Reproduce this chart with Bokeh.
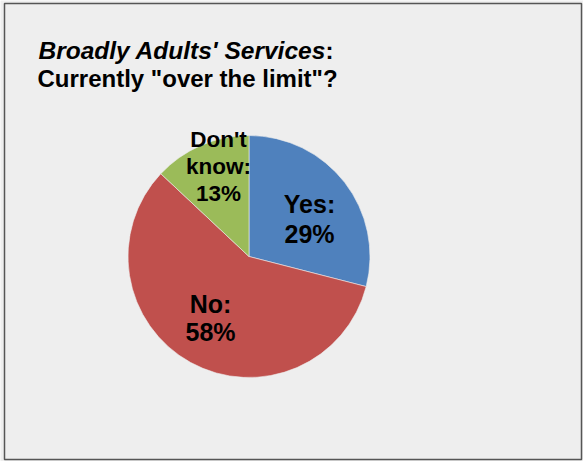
import numpy as np
from bokeh.plotting import figure
from bokeh.models import Range1d
from bokeh.embed import file_html
from bokeh.resources import INLINE
from bokeh.core.properties import value

# ---- data ----
categories = ["Yes", "No", "Don't know"]
values = [29, 58, 13]
label_lines = [["Yes:", "29%"], ["No:", "58%"], ["Don't", "know:", "13%"]]
colors = ["#4F81BD", "#C0504D", "#9BBB59"]
title_italic = "Broadly Adults' Services"
title_colon = ":"
title_line2 = 'Currently "over the limit"?'

# ---- layout ----
W, H = 583, 461
FONT = "Liberation Sans"
cx, cy, r = 248.5, H - 256, 121

p = figure(width=W, height=H, x_range=Range1d(0, W), y_range=Range1d(0, H),
           output_backend="svg", toolbar_location=None, min_border=0,
           x_axis_location=None, y_axis_location=None)
p.grid.visible = False
p.outline_line_color = None
p.background_fill_color = "#EEEEEE"
p.border_fill_color = "#EEEEEE"

# frame border
p.quad(left=[4], right=[581], top=[H - 3], bottom=[H - 459],
       fill_color=None, line_color="#555555", line_width=1.5)

# pie
vals = np.array(values, dtype=float)
frac = vals / vals.sum()
cum = np.concatenate([[0], np.cumsum(frac)])
starts = np.pi / 2 - 2 * np.pi * cum[:-1]
ends = np.pi / 2 - 2 * np.pi * cum[1:]
p.wedge(x=[cx] * len(vals), y=[cy] * len(vals), radius=r,
        start_angle=list(starts), end_angle=list(ends), direction="clock",
        fill_color=colors, line_color="#EEEEEE", line_width=0.6)

# data labels (centre of each label block, line spacing, size)
label_pos = [(309, 218, 30, 25), (210, 317, 28, 25), (218, 165.5, 27, 22.5)]
for lines, (lx, ly, sp, fs) in zip(label_lines, label_pos):
    n = len(lines)
    ys = [H - (ly + (i - (n - 1) / 2) * sp) for i in range(n)]
    p.text(x=[lx] * n, y=ys, text=lines, text_align="center", text_baseline="middle",
           text_font=value(FONT), text_font_size=f"{fs}px", text_font_style="bold",
           text_color="black")

# title
p.text(x=[38], y=[H - 50], text=[title_italic], text_align="left", text_baseline="alphabetic",
       text_font=value(FONT), text_font_size="24.5px", text_font_style="bold italic", text_color="black")
p.text(x=[325], y=[H - 50], text=[title_colon], text_align="left", text_baseline="alphabetic",
       text_font=value(FONT), text_font_size="24px", text_font_style="bold", text_color="black")
p.text(x=[37], y=[H - 78], text=[title_line2], text_align="left", text_baseline="alphabetic",
       text_font=value(FONT), text_font_size="24px", text_font_style="bold", text_color="black")

open("out.html", "w").write(file_html(p, INLINE))
